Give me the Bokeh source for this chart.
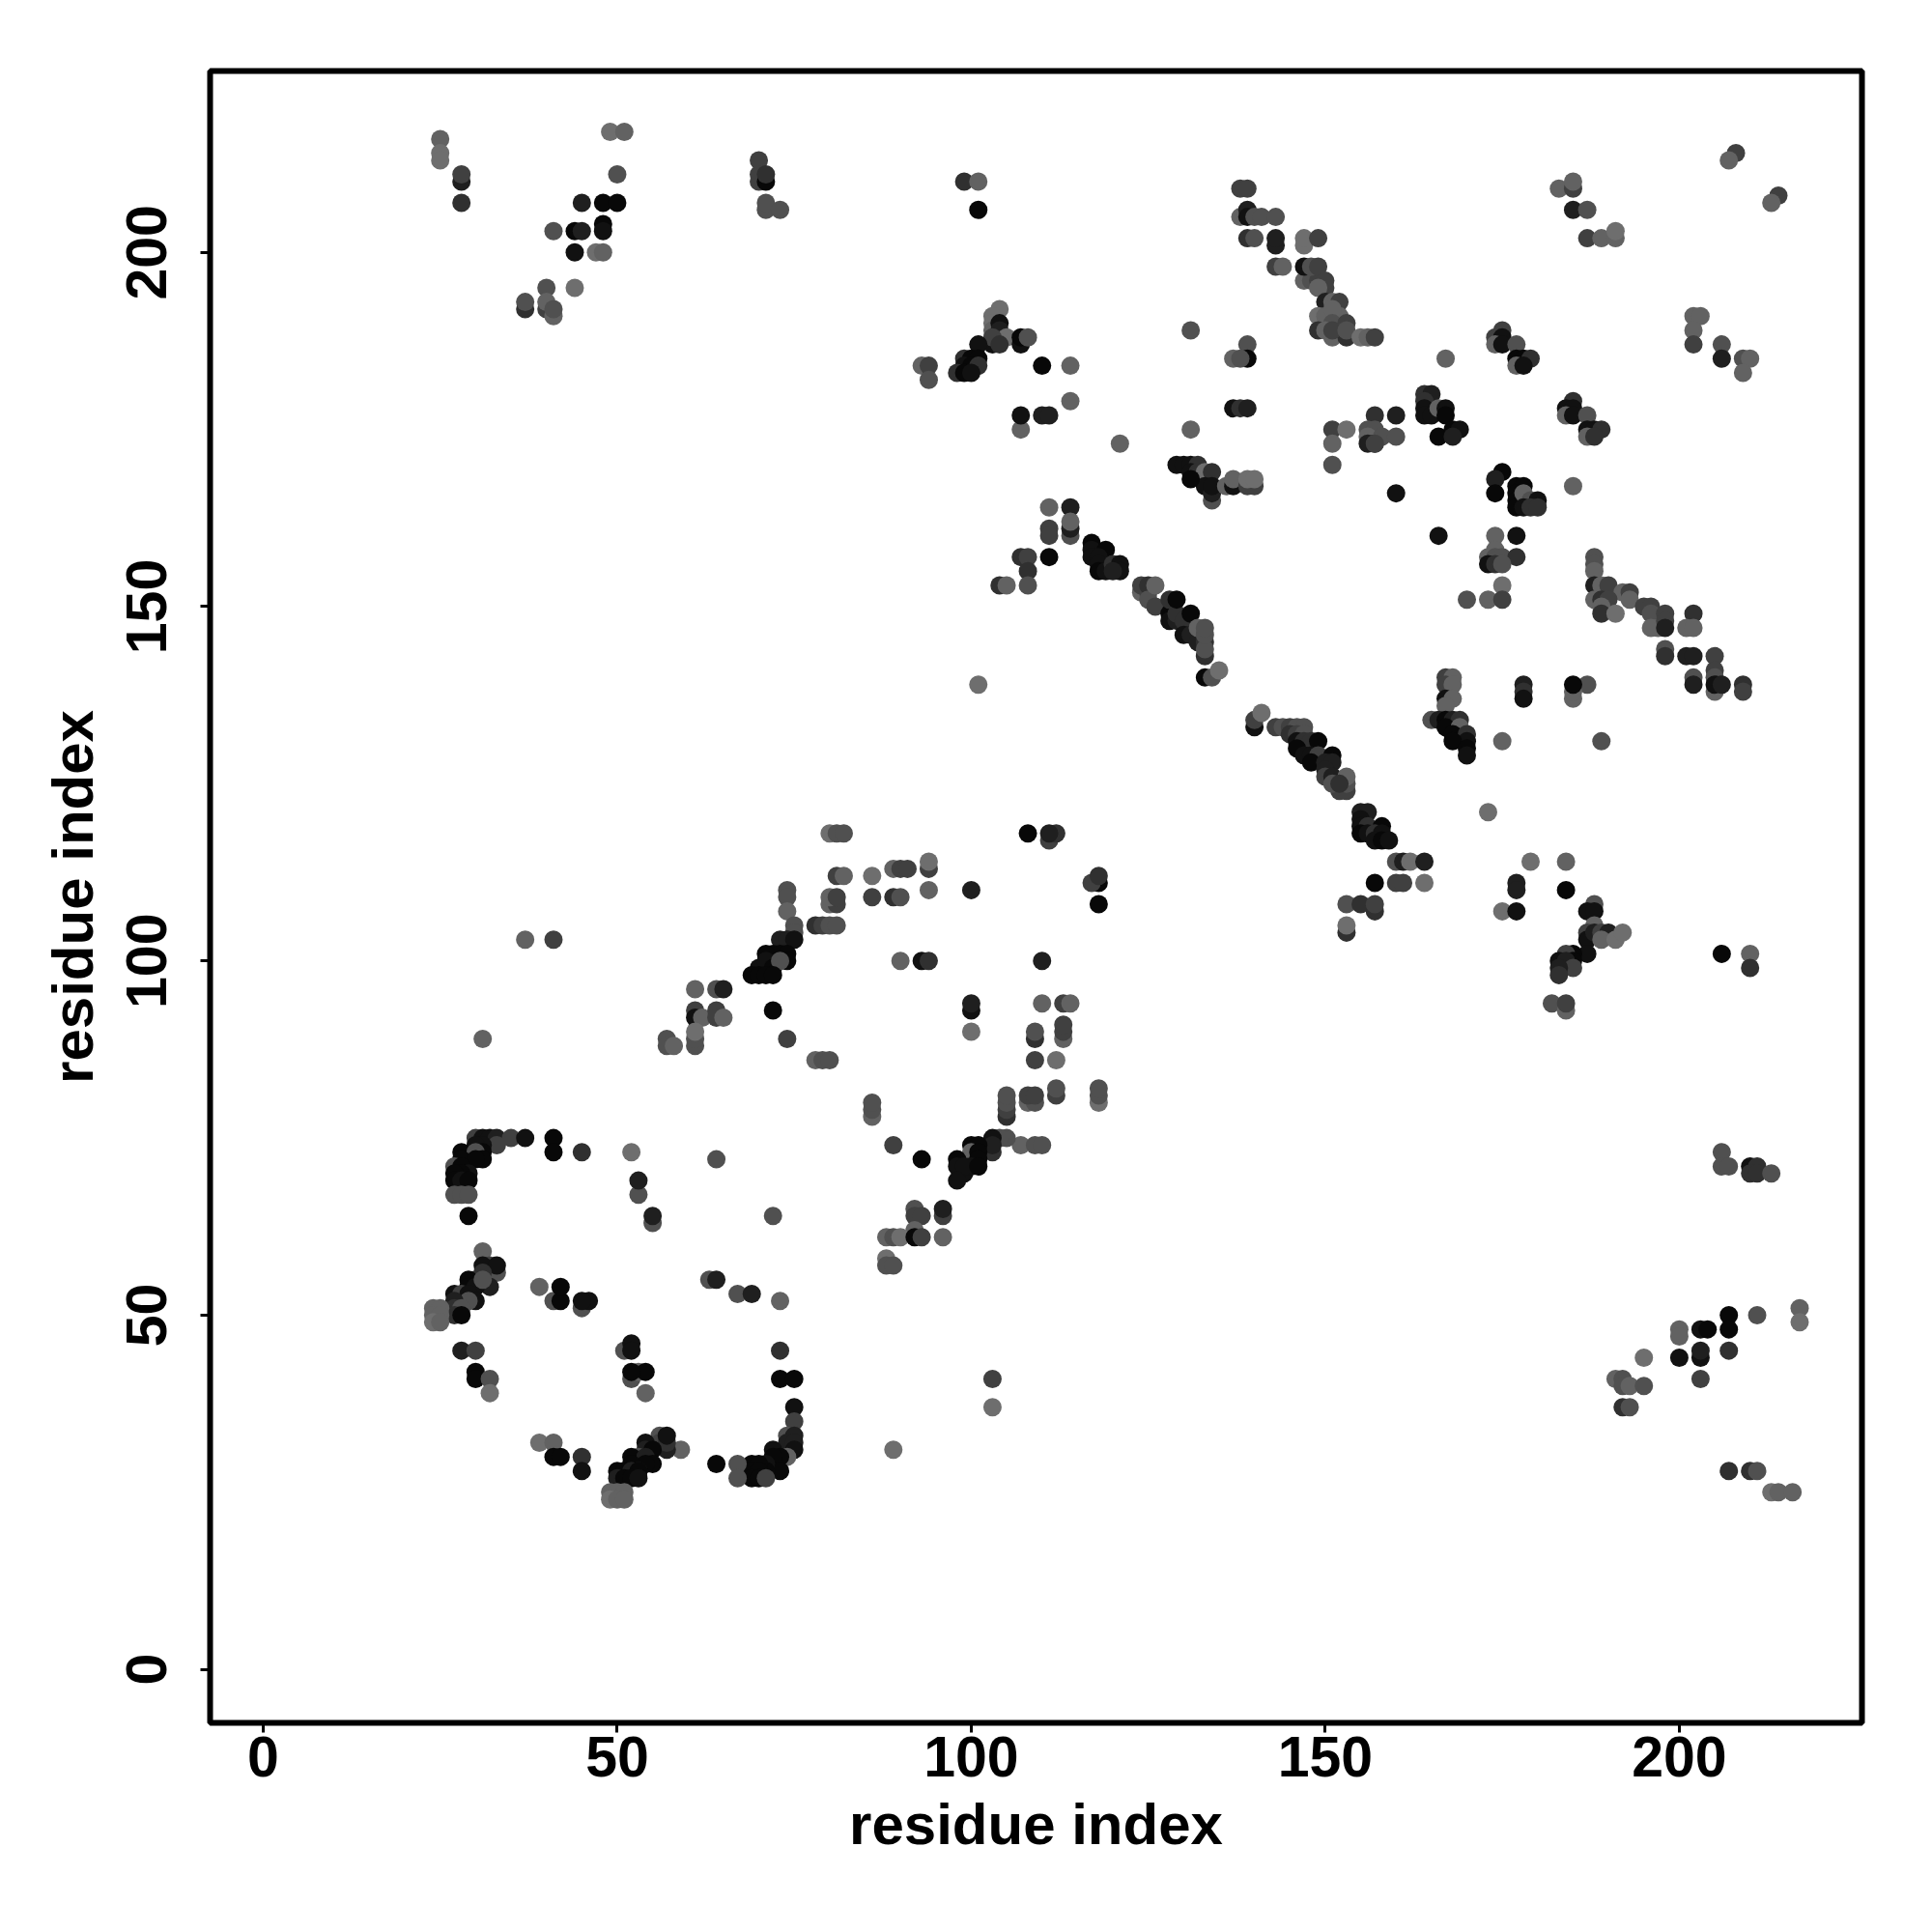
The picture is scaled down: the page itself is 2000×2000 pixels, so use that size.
from bokeh.embed import file_html
from bokeh.models import ColumnDataSource, FixedTicker, LinearColorMapper, Range1d
from bokeh.plotting import figure
from bokeh.resources import INLINE

# contact clusters: residue i, residue j, score (1 weak .. 8 strong)
top_left_x = [25,25,25,28,28,28,49,51,50,45,48,50,41,44,45,48,48,44,47,48,40,44,37,37,40,40,41,41]
top_left_y = [216,214,213,210,211,207,217,217,211,207,207,207,203,203,203,204,203,200,200,200,195,195,192,193,192,193,191,192]
top_left_s = [2,1,1,6,4,5,1,2,3,6,8,8,3,8,6,8,7,7,1,2,3,1,5,3,4,2,2,3]

top_mid_x = [70,70,70,71,71,71,71,73,99,101,101]
top_mid_y = [213,210,211,210,211,206,207,206,210,210,206]
top_mid_s = [4,4,4,8,5,3,3,3,5,2,8]

strand_a_x = [138,139,138,139,139,140,141,143,139,140,143,143,147,147,149,143,144,147,148,149,147,148,149,150,150,149,150,151,152,149,150,152,151,149,151,153,151,150,151,153,153,155,156,157]
strand_a_y = [209,209,205,206,205,205,205,205,202,202,201,202,201,202,202,198,198,196,196,196,198,198,198,195,196,195,193,193,193,191,191,191,192,189,188,188,190,189,189,190,189,188,188,188]
strand_a_s = [4,4,2,6,7,3,3,3,5,3,6,6,1,1,4,4,2,2,3,4,7,3,4,4,4,2,6,2,4,1,2,2,2,5,2,5,3,2,4,4,3,1,2,4]

arm_b_x = [104,103,103,103,103,104,104,105,103,104,107,107,108,101,99,100,101,99,100,101,98,99,100,110,114,93,94,94,107,107,110,111,114,121]
arm_b_y = [192,191,190,189,187,190,189,188,188,187,187,188,188,187,185,185,185,184,184,184,183,183,183,184,184,184,184,182,175,177,177,177,179,173]
arm_b_s = [1,1,1,2,7,7,6,1,4,5,7,8,3,7,5,8,8,7,8,5,5,8,7,8,2,2,4,3,2,7,6,6,2,2]

mid_c_x = [131,139,139,137,138,137,138,139,131,129,130,131,132,131,132,133,134,133,134,134,134,131,136,137,137,139,140,139,140]
mid_c_y = [189,187,185,185,185,178,178,178,175,170,170,170,170,169,169,169,169,167,165,166,167,168,167,167,168,167,167,168,168]
mid_c_s = [3,3,8,2,3,7,5,6,2,7,7,7,5,7,5,1,5,7,3,6,7,8,2,7,2,4,4,1,1]

mid_d_x = [151,153,151,151,157,156,157,156,157,158,156,157,160,160,160]
mid_d_y = [175,175,173,170,177,175,175,174,173,174,173,173,177,174,166]
mid_d_s = [4,1,2,3,5,3,3,2,6,3,6,4,6,3,7]

diag_one_x = [111,114,114,114,114,111,111,111,107,108,108,104,105,108,117,117,117,119,118,118,118,119,120,121,121,120]
diag_one_y = [164,160,164,161,162,161,160,157,157,157,155,153,153,153,159,158,157,158,157,156,155,155,156,156,155,155]
diag_one_s = [2,3,6,6,2,4,4,8,5,4,5,5,2,3,8,7,7,8,7,7,8,7,5,7,7,6]

diag_two_x = [124,125,124,125,125,126,126,128,128,129,129,130,130,128,129,131,131,132,132,133,133,133,133,133,133,134,135,101]
diag_two_y = [152,152,153,153,151,150,153,149,148,148,149,148,146,151,151,146,149,145,147,143,145,144,146,147,140,140,141,139]
diag_two_s = [2,4,4,5,3,4,2,8,7,6,5,5,7,5,8,6,8,6,2,5,5,3,3,3,8,3,1,1]

diag_three_x = [140,140,141,143,144,145,146,147,145,146,147,146,147,148,149,146,147,148,149,151,148,150,151,150,150,151,152,153,151,153,153,152]
diag_three_y = [133,134,135,133,133,133,133,133,132,132,132,131,131,131,131,130,129,129,129,129,128,128,128,127,126,126,124,124,125,125,126,125]
diag_three_s = [7,4,1,4,3,4,3,3,5,4,3,7,5,5,8,8,7,7,4,8,8,6,6,6,4,6,4,4,3,3,2,5]

diag_four_x = [155,156,155,155,156,158,155,156,157,158,157,158,159,160,161,162,164,157,160,161,164,153,155,157,157,153,153]
diag_four_y = [121,121,120,119,119,119,118,118,118,118,117,117,117,114,114,114,114,111,111,111,111,108,108,107,108,104,105]
diag_four_s = [6,6,7,7,5,8,8,7,5,7,7,8,7,3,6,1,6,8,4,4,1,3,5,5,4,5,1]

right_e_x = [208,207,214,213,183,185,185,185,187,187,189,191,191,202,203,202,202,206,206,209,210,209]
right_e_y = [214,213,208,207,209,209,210,206,206,202,202,202,203,191,191,189,187,187,185,185,185,183]
right_e_s = [4,2,4,2,2,4,2,6,3,4,2,2,1,2,2,2,4,3,6,3,2,2]

right_f_x = [164,165,164,164,164,165,166,167,167,166,168,169,168]
right_f_y = [180,180,179,178,177,177,178,178,177,174,175,175,174]
right_f_s = [5,6,5,7,7,7,2,7,8,8,8,7,6]

right_g_x = [167,175,174,175,174,175,177,177,178,179,177,178,185,184,185,184,185,187,187,188,189,187,188,185,175,174,174,177]
right_g_y = [185,189,188,188,187,187,187,185,185,185,184,184,179,178,178,177,177,177,175,175,175,174,174,167,169,168,166,167]
right_g_s = [2,4,4,7,2,7,3,8,8,5,2,7,5,7,7,2,7,3,7,7,5,2,5,2,8,6,8,8]

right_h_x = [178,177,177,177,178,179,180,178,179,180,166,174,177,174,173,174,175,177,173,174,175,175,173,175,170]
right_h_y = [167,166,165,164,166,165,165,164,164,164,160,160,160,158,157,157,157,157,156,156,156,153,151,151,151]
right_h_s = [8,8,8,8,2,3,7,7,5,5,7,2,7,2,2,3,3,5,7,5,3,1,2,4,3]

strand_i_x = [188,188,188,188,189,190,192,193,188,189,190,193,189,189,191,195,196,196,197,196,198,198,198,202,201,202]
strand_i_y = [157,156,155,153,153,153,152,152,151,151,151,151,150,149,149,150,150,149,147,147,149,148,147,149,147,147]
strand_i_s = [3,3,2,6,2,4,2,4,2,5,4,2,2,5,1,4,4,3,2,2,4,4,6,5,2,2]

strand_j_x = [198,198,201,202,205,205,205,202,202,205,205,206,209,209]
strand_j_y = [144,143,143,143,143,141,140,140,139,138,139,139,139,138]
strand_j_s = [3,5,6,6,4,4,3,3,6,2,7,6,5,4]

column_k_x = [167,168,167,168,167,168,167,165,166,167,168,169,167,169,168,170,170,168,170,170,178,178,178,185,187,185,185,175,189]
column_k_y = [140,140,139,139,137,137,136,134,134,134,134,134,133,133,132,132,131,131,130,129,139,138,137,137,139,138,139,131,131]
column_k_s = [4,2,4,2,7,2,2,3,6,8,6,5,8,2,8,5,7,8,8,7,6,5,7,2,3,2,8,2,3]

lower_right_x = [173,179,184,175,177,177,177,184,188,187,188,188,187,187,188,189,190,189,191,192,187,185,184,185,183,184,185,183,183,206,210,210,182,184,184]
lower_right_y = [121,114,114,107,111,110,107,110,108,107,107,105,104,103,104,104,104,103,103,104,101,101,101,100,100,100,99,99,98,101,101,99,94,93,94]
lower_right_s = [1,1,2,1,6,6,7,8,3,7,7,2,4,7,6,4,6,2,1,1,7,8,4,8,7,6,4,6,5,8,2,5,3,2,4]

far_right_x = [206,206,207,210,211,210,211,213,217,217,211,207,207,207,203,204,200,200,200,203,203,203,195,191,192,192,193,195,192,193,207,210,211,213,214,216]
far_right_y = [73,71,71,71,71,70,70,70,51,49,50,50,48,45,48,48,48,47,44,44,45,41,44,41,41,40,40,40,37,37,28,28,28,25,25,25]
far_right_s = [3,3,3,7,5,5,5,3,2,1,3,8,8,5,7,8,2,2,7,7,6,4,1,2,3,3,2,3,5,3,5,5,3,1,2,2]

upper_mid_x = [80,81,82,108,111,112,111,81,82,86,89,90,91,94,94,94,100,118,117,118,118,74,74,74,75,75,80,81,80,81,86,89,90]
upper_mid_y = [118,118,118,118,117,118,118,112,112,112,113,113,113,113,114,110,110,111,111,112,108,110,109,107,105,104,108,108,109,109,109,109,109]
upper_mid_s = [1,3,3,8,4,5,6,4,2,1,2,4,4,4,1,2,6,8,4,5,8,3,3,2,3,3,2,4,2,4,4,5,3]

rise_l_x = [78,79,80,81,73,74,75,72,73,71,74,74,70,71,72,73,69,70,71,72,90,93,94,110]
rise_l_y = [105,105,105,105,103,103,103,101,101,101,101,100,99,100,99,100,98,98,98,98,100,100,100,100]
rise_l_s = [5,4,3,3,6,6,7,8,8,8,8,8,7,7,8,3,8,8,8,8,2,7,5,6]

mid_m_x = [61,64,65,61,61,62,64,64,65,72,100,100,100,110,113,114,113,113,113,109,109,109,112]
mid_m_y = [96,96,96,93,92,92,93,92,92,93,93,94,90,94,94,94,89,90,91,89,90,86,86]
mid_m_s = [2,3,6,4,7,2,4,4,2,8,7,6,1,2,4,2,2,4,4,5,3,4,1]

mid_n_x = [57,57,58,61,61,61,74,78,79,80,105,105,105,105,108,109,108,109,112,112,118,118,118,86,86,86,37,41,31,103,103,89]
mid_n_y = [89,88,88,88,89,90,89,86,86,86,78,79,80,81,80,80,81,81,81,82,80,81,82,78,79,80,103,103,89,41,37,31]
mid_n_s = [3,3,2,3,3,1,4,2,3,3,5,4,3,3,2,3,4,4,4,3,1,3,3,2,3,3,2,4,2,4,1,1]

rise_o_x = [89,93,64,107,109,110,105,104,103,103,103,100,101,100,101,101,98,99,98,100,99,98,101]
rise_o_y = [74,72,72,74,74,74,75,75,75,73,74,74,74,73,73,72,72,70,71,71,71,69,71]
rise_o_s = [4,8,3,2,3,3,3,3,7,5,6,8,8,2,8,8,8,7,7,7,7,7,8]

low_p_x = [92,92,93,96,96,72,92,88,89,90,92,93,96,88,88,89,63,64,67,69,73]
low_p_y = [65,64,64,64,65,64,62,61,61,61,61,61,61,58,57,57,55,55,53,53,52]
low_p_s = [3,4,4,4,6,3,2,2,3,1,8,4,2,1,3,3,3,6,3,6,2]

helix_q_x = [30,31,32,33,35,37,41,41,45,52,33,31,30,28,31,30,31,28,30,27,28,29,28,27,27,28,29,27,28,29,29,53,53,55,55]
helix_q_y = [75,75,75,75,75,75,75,73,73,73,74,74,74,73,73,73,72,72,72,71,71,70,70,70,69,69,69,67,67,67,64,67,69,63,64]
helix_q_s = [4,7,7,6,4,7,8,8,5,1,4,7,7,8,8,3,8,8,8,3,8,7,8,8,8,7,8,3,3,3,8,3,6,3,6]

helix_r_x = [31,32,33,31,33,30,31,29,32,29,30,31,27,28,29,30,29,27,27,28,27,28,24,25,24,25,24,25]
helix_r_y = [59,57,56,57,57,55,56,55,54,54,54,55,53,53,53,52,52,52,51,51,50,50,51,51,50,50,49,49]
helix_r_s = [2,4,3,7,7,5,5,8,6,8,7,3,7,4,7,7,3,6,5,3,5,8,2,2,2,2,1,2]

low_s_x = [39,41,42,42,45,46,45,28,30,30,30,32,32,51,52,52,52,53,54,52,54]
low_s_y = [54,52,52,54,51,52,52,45,45,42,41,41,39,45,46,45,41,42,42,42,39]
low_s_s = [2,3,8,8,3,7,7,6,4,8,8,3,1,3,7,7,3,2,8,8,2]

corner_t_x = [73,73,75,75,75,74,75,74,75,75,74,72,73,72,73,71,71,69,70,69,70,69,70,71,67,67,64,39,41,41,42,45,45]
corner_t_y = [45,41,41,37,35,33,33,32,32,31,30,31,30,30,28,29,28,29,29,28,28,27,27,27,29,27,29,32,32,30,30,30,28]
corner_t_s = [5,8,8,7,4,3,6,6,6,7,2,7,8,8,8,7,8,8,8,8,8,8,8,4,3,3,8,1,2,8,8,5,7]

curve_u_x = [59,56,56,57,57,57,54,54,55,53,52,54,55,54,52,53,50,51,52,53,50,51,52,53,49,50,51,49,50,51]
curve_u_y = [31,33,32,31,32,33,32,31,31,30,30,30,29,29,29,28,28,28,28,28,27,27,27,27,25,25,25,24,24,24]
curve_u_s = [2,3,4,6,5,7,7,6,8,3,8,6,8,8,8,6,8,8,6,8,6,8,8,7,2,2,2,1,2,2]

clusters = [
    (top_left_x, top_left_y, top_left_s), (top_mid_x, top_mid_y, top_mid_s),
    (strand_a_x, strand_a_y, strand_a_s), (arm_b_x, arm_b_y, arm_b_s),
    (mid_c_x, mid_c_y, mid_c_s), (mid_d_x, mid_d_y, mid_d_s),
    (diag_one_x, diag_one_y, diag_one_s), (diag_two_x, diag_two_y, diag_two_s),
    (diag_three_x, diag_three_y, diag_three_s), (diag_four_x, diag_four_y, diag_four_s),
    (right_e_x, right_e_y, right_e_s), (right_f_x, right_f_y, right_f_s),
    (right_g_x, right_g_y, right_g_s), (right_h_x, right_h_y, right_h_s),
    (strand_i_x, strand_i_y, strand_i_s), (strand_j_x, strand_j_y, strand_j_s),
    (column_k_x, column_k_y, column_k_s),
    (lower_right_x, lower_right_y, lower_right_s), (far_right_x, far_right_y, far_right_s),
    (upper_mid_x, upper_mid_y, upper_mid_s), (rise_l_x, rise_l_y, rise_l_s),
    (mid_m_x, mid_m_y, mid_m_s), (mid_n_x, mid_n_y, mid_n_s), (rise_o_x, rise_o_y, rise_o_s),
    (low_p_x, low_p_y, low_p_s), (helix_q_x, helix_q_y, helix_q_s), (helix_r_x, helix_r_y, helix_r_s),
    (low_s_x, low_s_y, low_s_s), (corner_t_x, corner_t_y, corner_t_s), (curve_u_x, curve_u_y, curve_u_s),
]

xs, ys, ss = [], [], []
for cx, cy, cs in clusters:
    xs += cx
    ys += cy
    ss += cs

tick_values = [0, 50, 100, 150, 200]
grays = ["#6e6e6e", "#626262", "#505050", "#404040", "#303030", "#1f1f1f", "#111111", "#080808"]

p = figure(width=1984, height=1984, output_backend="svg", toolbar_location=None,
           x_range=Range1d(-7.5, 225.8), y_range=Range1d(-7.54, 225.6),
           min_border_left=217, min_border_right=57, min_border_top=73, min_border_bottom=201,
           background_fill_color="white", border_fill_color="white")
p.grid.visible = False
p.outline_line_color = "black"
p.outline_line_width = 6

mapper = LinearColorMapper(palette=grays, low=0.5, high=8.5)
source = ColumnDataSource(dict(x=xs, y=ys, s=ss))
p.scatter("x", "y", source=source, size=19, marker="circle", line_color=None,
          fill_color={"field": "s", "transform": mapper})

for ax in (p.xaxis[0], p.yaxis[0]):
    ax.ticker = FixedTicker(ticks=tick_values)
    ax.axis_line_color = None
    ax.minor_tick_line_color = None
    ax.major_tick_line_color = "black"
    ax.major_tick_line_width = 3
    ax.major_tick_in = 0
    ax.major_tick_out = 10
    ax.axis_label = "residue index"
    ax.axis_label_text_font = "Liberation Sans"
    ax.axis_label_text_font_style = "bold"
    ax.axis_label_text_font_size = "60px"
    ax.axis_label_text_color = "black"
    ax.major_label_text_font = "Liberation Sans"
    ax.major_label_text_font_style = "bold"
    ax.major_label_text_font_size = "59px"
    ax.major_label_text_color = "black"
p.xaxis[0].major_label_standoff = 4
p.xaxis[0].axis_label_standoff = 13
p.yaxis[0].major_label_orientation = "parallel"
p.yaxis[0].major_label_standoff = 35
p.yaxis[0].axis_label_standoff = 20

open("out.html", "w").write(file_html(p, INLINE))
